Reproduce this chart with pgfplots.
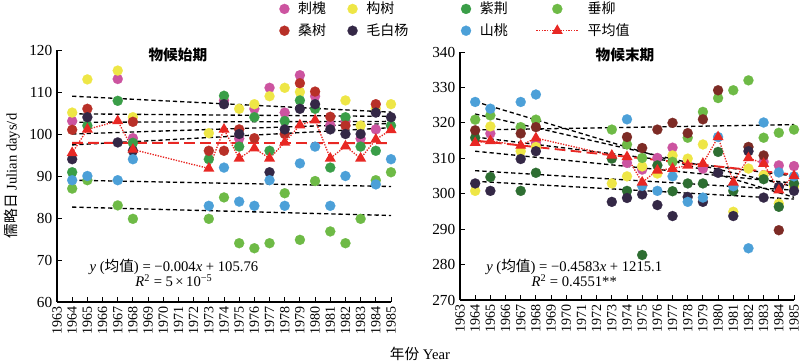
\documentclass[border=0pt]{standalone}
\usepackage{fontspec}
\setmainfont{Liberation Serif}
\newfontfamily\cjk{Noto Sans CJK SC}
\usepackage{pgfplots}
\pgfplotsset{compat=1.18}

\definecolor{cpink}{RGB}{204,84,160}
\definecolor{cyellow}{RGB}{238,230,70}
\definecolor{cgreen}{RGB}{58,158,72}
\definecolor{cdgreen}{RGB}{46,110,50}
\definecolor{clgreen}{RGB}{110,186,70}
\definecolor{cred}{RGB}{184,48,40}
\definecolor{cmaroon}{RGB}{125,43,37}
\definecolor{cpurple}{RGB}{52,40,70}
\definecolor{cblue}{RGB}{76,160,216}
\definecolor{cmean}{RGB}{232,40,36}

\pgfplotsset{
  pt/.style={only marks, mark=*, mark size=3.8pt, color=#1, mark options={draw=#1, fill=#1, line width=0.1pt}},
  tr/.style={black, dash pattern=on 3.2pt off 2.2pt, line width=1pt, forget plot},
  meanline/.style={cmean, densely dotted, line width=1pt, mark=triangle*, mark size=3.8pt, mark options={solid, fill=cmean, draw=cmean},
    legend image code/.code={\draw[mark repeat=2,mark phase=2,##1] plot coordinates {(-0.25cm,0cm) (0.3cm,0cm) (0.85cm,0cm)};}},
  meantr/.style={cmean, dash pattern=on 8pt off 4pt, line width=1.4pt, forget plot},
  base/.style={
    scale only axis, width=250.5pt,
    axis x line*=bottom, axis y line*=left,
    xmin=1963, xmax=1985, xtick={1963,...,1985},
    x tick label style={rotate=90, anchor=east, font=\fontsize{10.5}{12}\selectfont},
    y tick label style={font=\fontsize{11.5}{13}\selectfont},
    /pgf/number format/assume math mode=true,
    /pgf/number format/1000 sep={},
    tick align=inside, major tick length=3.5pt,
    tick style={black, line width=0.7pt},
    axis line style={black, line width=0.8pt},
    clip=false,
  },
}

\begin{document}
\begin{tikzpicture}
\useasboundingbox (0,0) rectangle (600pt,272.25pt);

% ---------- left panel ----------
\begin{axis}[base, at={(42.75pt,45.75pt)}, anchor=south west, height=189pt,
  ymin=60, ymax=120, ytick={60,70,...,120},
  legend columns=4,
  legend style={at={(0.665,1.202)}, anchor=north west, draw=none, fill=none, inner sep=0pt,
    font=\fontsize{10.5}{12}\selectfont, row sep=2pt,
    /tikz/every odd column/.append style={column sep=4.5pt},
    /tikz/column 2/.style={column sep=14pt},
    /tikz/column 4/.style={column sep=37.5pt},
    /tikz/column 6/.style={column sep=19pt}},
  legend cell align=left]
\addplot[pt=cpink] coordinates {(1964,103.1) (1967,113.1) (1968,99) (1974,108) (1975,98.9) (1976,106) (1977,111) (1978,105.1) (1979,114) (1980,109) (1981,102.1) (1982,103) (1983,98.9) (1984,101.1)};
\addlegendentry{\cjk 刺槐}
\addplot[pt=cyellow] coordinates {(1964,105.1) (1965,113) (1967,115.1) (1968,104) (1973,100.2) (1975,106) (1976,107.1) (1977,109) (1978,111) (1979,110) (1982,108) (1983,102) (1984,106.1) (1985,107.1)};
\addlegendentry{\cjk 构树}
\addplot[pt=cgreen] coordinates {(1964,90.9) (1965,102) (1967,107.9) (1968,97.9) (1973,94) (1974,109.1) (1975,97) (1976,104) (1977,96) (1978,103.1) (1979,108) (1980,106) (1981,92) (1982,104) (1983,97) (1984,96) (1985,102)};
\addlegendentry{\cjk 紫荆}
\addplot[pt=clgreen] coordinates {(1964,87) (1965,89) (1967,83) (1968,79.8) (1973,79.8) (1974,84.9) (1975,74) (1976,72.8) (1977,74) (1978,85.9) (1979,74.8) (1980,88.8) (1981,76.8) (1982,74) (1983,79.8) (1984,89) (1985,90.9)};
\addlegendentry{\cjk 垂柳}
\addplot[pt=cred] coordinates {(1964,101) (1965,106) (1968,102.9) (1973,96) (1974,96) (1975,101.1) (1976,99) (1978,100) (1979,112.1) (1980,110.1) (1981,104.1) (1982,102) (1984,107.1)};
\addlegendentry{\cjk 桑树}
\addplot[pt=cpurple] coordinates {(1964,94) (1965,104) (1967,98) (1968,96) (1974,107.1) (1975,100) (1977,90.9) (1978,101.1) (1979,106) (1980,107.1) (1981,101.1) (1982,100) (1983,100) (1984,105.1) (1985,104)};
\addlegendentry{\cjk 毛白杨}
\addplot[pt=cblue] coordinates {(1964,89) (1965,90) (1967,89) (1968,94) (1973,82.9) (1974,92) (1975,83.9) (1976,82.9) (1977,89) (1978,82.9) (1979,93) (1980,97) (1981,82.9) (1982,90) (1984,88) (1985,94)};
\addlegendentry{\cjk 山桃}
% trend lines
\addplot[tr] coordinates {(1964,109) (1985,105.2)};
\addplot[tr] coordinates {(1964,104.8) (1985,104.2)};
\addplot[tr] coordinates {(1964,102.8) (1985,103.0)};
\addplot[tr] coordinates {(1964,100) (1985,102.5)};
\addplot[tr] coordinates {(1964,97.4) (1985,101.5)};
\addplot[tr] coordinates {(1964,89) (1985,87.5)};
\addplot[tr] coordinates {(1964,82.6) (1985,80.6)};
\addplot[meantr] coordinates {(1964,97.90) (1985,97.82)};
\addplot[meanline] coordinates {(1964,95.5) (1965,101.1) (1967,103.1) (1968,96.3) (1973,91.8) (1974,101.1) (1975,94.2) (1976,96.6) (1977,94.2) (1978,98) (1979,102.1) (1980,103.3) (1981,94.2) (1982,97.1) (1983,94.2) (1984,98.7) (1985,101)};
\addlegendentry{\cjk 平均值}
\node[font=\cjk\bfseries\fontsize{11}{13}\selectfont] at (rel axis cs:0.362,0.98) {物候始期};
\node[font=\fontsize{11}{11}\selectfont, align=center, inner sep=0pt] at (rel axis cs:0.35,0.115) {\textit{y} ({\cjk 均值}) = −0.004\textit{x} + 105.76\\[-1pt]\textit{R}\textsuperscript{2} = 5\,×\,10\textsuperscript{−5}};
\end{axis}

% ---------- right panel ----------
\begin{axis}[base, at={(345pt,47.25pt)}, anchor=south west, height=186pt,
  ymin=270, ymax=340, ytick={270,280,...,340}]
\addplot[pt=cpink] coordinates {(1965,317) (1968,314.3) (1974,308.7) (1975,306.8) (1976,310.1) (1977,313) (1979,307.1) (1983,309) (1984,308) (1985,307.8)};
\addplot[pt=cyellow] coordinates {(1964,300.8) (1965,319) (1967,312) (1968,313.2) (1973,302.9) (1974,304.9) (1975,307.7) (1976,305.7) (1977,310.8) (1978,309.9) (1979,313.9) (1981,294.9) (1982,307.1) (1983,305.2) (1984,297.2) (1985,302.1)};
\addplot[pt=cdgreen] coordinates {(1964,315.8) (1965,304.7) (1967,300.8) (1968,305.9) (1973,309.9) (1974,300.8) (1975,282.7) (1976,308) (1977,300.7) (1978,302.9) (1979,302.9) (1980,311.8) (1981,300.8) (1983,304.1) (1984,296.3) (1985,302.9)};
\addplot[pt=clgreen] coordinates {(1964,320.9) (1965,322.1) (1967,318.8) (1968,320.9) (1973,318.1) (1974,313.9) (1975,310.1) (1977,309) (1978,315.8) (1979,323.1) (1980,327) (1981,329.2) (1982,332) (1983,315.8) (1984,317.2) (1985,318.1)};
\addplot[pt=cmaroon] coordinates {(1964,317.9) (1967,317) (1968,318.8) (1974,316) (1975,312.9) (1976,318.1) (1977,320) (1978,317.1) (1979,321) (1980,329.2) (1982,313.2) (1983,310.8) (1984,289.7)};
\addplot[pt=cpurple] coordinates {(1964,302.9) (1965,300.8) (1967,309.8) (1968,312) (1973,297.7) (1974,298.8) (1975,299.8) (1976,296.8) (1977,293.7) (1978,299.1) (1979,297.7) (1980,305.9) (1981,293.7) (1982,312) (1983,298.9) (1984,301.9) (1985,300.8)};
\addplot[pt=cblue] coordinates {(1964,325.9) (1965,324) (1967,325.9) (1968,328) (1974,321) (1975,302.2) (1976,300.8) (1977,304.9) (1978,297.7) (1979,298.9) (1980,316) (1981,302.1) (1982,284.6) (1983,320.1) (1984,306) (1985,304.9)};
\addplot[tr] coordinates {(1964,326) (1985,299)};
\addplot[tr] coordinates {(1964,322.5) (1985,302)};
\addplot[tr] coordinates {(1964,318) (1985,319.5)};
\addplot[tr] coordinates {(1964,316) (1985,305)};
\addplot[tr] coordinates {(1964,312) (1985,303)};
\addplot[tr] coordinates {(1964,306.5) (1985,301)};
\addplot[tr] coordinates {(1964,303.5) (1985,298.5)};
\addplot[meantr] coordinates {(1964,315.0) (1985,305.4)};
\addplot[meanline] coordinates {(1964,314.4) (1965,314.9) (1967,313.6) (1968,315.7) (1973,310.8) (1974,310.4) (1975,303.2) (1976,306.6) (1977,307.1) (1978,308) (1979,308.5) (1980,316) (1981,303.2) (1982,310.1) (1983,308.5) (1984,301) (1985,305)};
\node[font=\cjk\bfseries\fontsize{11}{13}\selectfont] at (rel axis cs:0.494,0.988) {物候末期};
\node[font=\fontsize{11}{11}\selectfont, align=center, inner sep=0pt] at (rel axis cs:0.342,0.109) {\textit{y} ({\cjk 均值}) = −0.4583\textit{x} + 1215.1\\[-1pt]\textit{R}\textsuperscript{2} = 0.4551**};
\end{axis}

\node[rotate=90, font=\fontsize{11}{13}\selectfont] at (9pt,140.25pt) {{\cjk 儒略日} Julian days/d};
\node[font=\fontsize{11}{13}\selectfont] at (315pt,6.75pt) {{\cjk 年份} Year};
\end{tikzpicture}
\end{document}
